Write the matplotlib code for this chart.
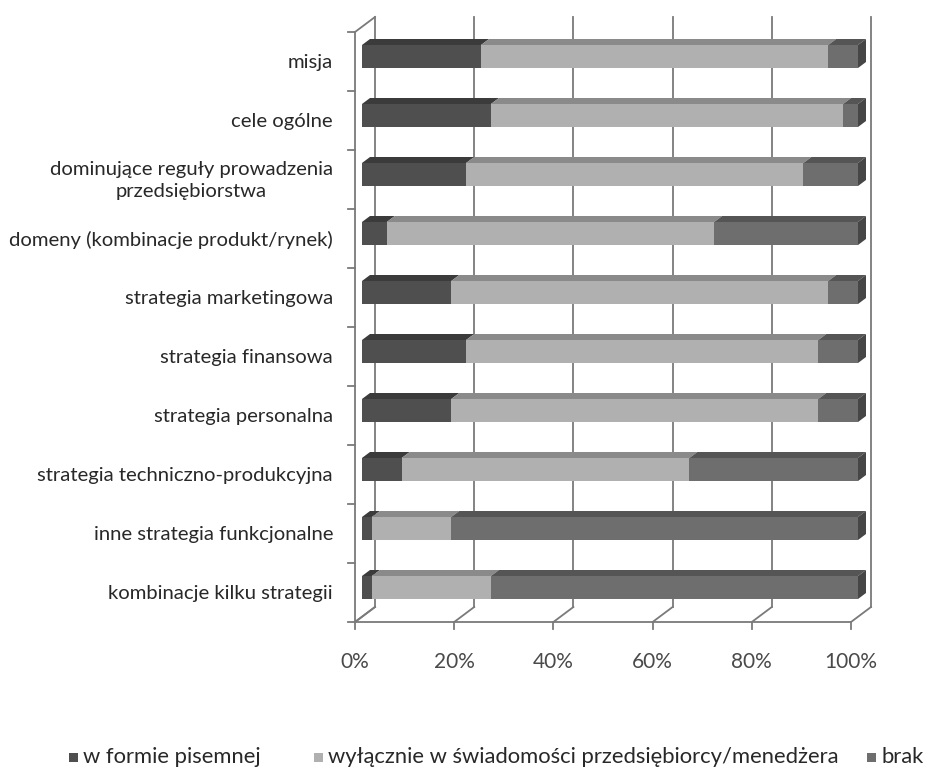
import matplotlib
matplotlib.use('Agg')
import matplotlib.pyplot as plt
from matplotlib.patches import Polygon, Rectangle
import numpy as np

plt.rcParams['font.family'] = ['Lato', 'DejaVu Sans']

categories = [
    'misja',
    'cele ogólne',
    'dominujące reguły prowadzenia\nprzedsiębiorstwa',
    'domeny (kombinacje produkt/rynek)',
    'strategia marketingowa',
    'strategia finansowa',
    'strategia personalna',
    'strategia techniczno-produkcyjna',
    'inne strategia funkcjonalne',
    'kombinacje kilku strategii',
]
pisemna = [24, 26, 21, 5, 18, 21, 18, 8, 2, 2]
swiadomosc = [70, 71, 68, 66, 76, 71, 74, 58, 16, 24]
brak = [6, 3, 11, 29, 6, 8, 8, 34, 82, 74]

series_names = ['w formie pisemnej',
                'wyłącznie w świadomości przedsiębiorcy/menedżera',
                'brak']
ticks = [0, 20, 40, 60, 80, 100]

front_colors = ['#4f4f4f', '#b0b0b0', '#6e6e6e']
top_colors = ['#3b3b3b', '#8a8a8a', '#555555']
end_color = '#464646'
grid_color = '#7a7a7a'
text_color = '#282828'

# pixel -> data scale (x: percent, y: category rows)
PX_X = 4.96
PX_Y = 59.0

# 3d offsets relative to the bar front faces, in data units
FX, FY = -7 / PX_X, 5 / PX_Y       # front plane of the box
BX, BY = 13 / PX_X, -10 / PX_Y     # back wall
DX, DY = 8 / PX_X, -6 / PX_Y       # bar depth
BAR_H = 23 / PX_Y

W, H = 938, 774
fig = plt.figure(figsize=(W / 100, H / 100), dpi=100)
ax = fig.add_axes([0, 0, 1, 1])
ax.set_xlim(-362 / PX_X, (W - 362) / PX_X)
ax.set_ylim((H - 56.5) / PX_Y, -56.5 / PX_Y)
ax.axis('off')

n = len(categories)
top, bottom = -0.5, n - 0.5
lw = 1.3

# back wall gridlines, floor diagonals and x tick labels
for t in ticks:
    ax.plot([t + BX, t + BX], [top + BY, bottom + BY], color=grid_color, lw=lw, zorder=1)
    ax.plot([t + FX, t + BX], [bottom + FY, bottom + BY], color=grid_color, lw=lw, zorder=1)
    ax.plot([t + FX, t + FX], [bottom + FY, bottom + FY + 7 / PX_Y], color=grid_color, lw=lw, zorder=1)
    ax.text(t + FX, bottom + FY + 40 / PX_Y, f'{t}%', ha='center', va='center',
            fontsize=15, color='#4a4a4a')

# front edges of the box
ax.plot([FX, 100 + FX], [bottom + FY, bottom + FY], color=grid_color, lw=lw, zorder=1)
ax.plot([FX, FX], [top + FY, bottom + FY], color=grid_color, lw=lw, zorder=1)
ax.plot([FX, BX], [top + FY, top + BY], color=grid_color, lw=lw, zorder=1)
ax.plot([FX, BX], [bottom + FY, bottom + BY], color=grid_color, lw=lw, zorder=1)
for k in np.arange(top, bottom + 1):
    ax.plot([FX - 7 / PX_X, FX], [k + FY, k + FY], color=grid_color, lw=lw, zorder=1)

# stacked 3d bars
y = np.arange(n)
values = [pisemna, swiadomosc, brak]
left = np.zeros(n)
for s, vals in enumerate(values):
    vals = np.array(vals, dtype=float)
    ax.barh(y, vals, left=left, height=BAR_H, color=front_colors[s],
            edgecolor='none', zorder=3)
    for i in range(n):
        x0, x1 = left[i], left[i] + vals[i]
        yt = i - BAR_H / 2
        ax.add_patch(Polygon([(x0, yt), (x1, yt), (x1 + DX, yt + DY), (x0 + DX, yt + DY)],
                             closed=True, facecolor=top_colors[s], edgecolor='none', zorder=3))
    left = left + vals

for i in range(n):
    x1 = left[i]
    yt, yb = i - BAR_H / 2, i + BAR_H / 2
    ax.add_patch(Polygon([(x1, yt), (x1 + DX, yt + DY), (x1 + DX, yb + DY), (x1, yb)],
                         closed=True, facecolor=end_color, edgecolor='none', zorder=3))

# category labels
for i, name in enumerate(categories):
    ax.text(FX - 22 / PX_X, i + FY + 1 / PX_Y, name, ha='right', va='center',
            multialignment='center', fontsize=14.6, color=text_color, linespacing=1.3)

# legend row, laid out in figure pixels
legend_x = [69, 314, 867]
legend_y = 757
for xm, c, name in zip(legend_x, front_colors, series_names):
    fig.patches.append(Rectangle((xm / W, (H - legend_y - 4.5) / H), 9 / W, 9 / H,
                                 transform=fig.transFigure, facecolor=c, edgecolor='none'))
    fig.text((xm + 14) / W, 1 - legend_y / H, name, ha='left', va='center',
             fontsize=15.8, color=text_color)

fig.savefig('out.png', dpi=100)
